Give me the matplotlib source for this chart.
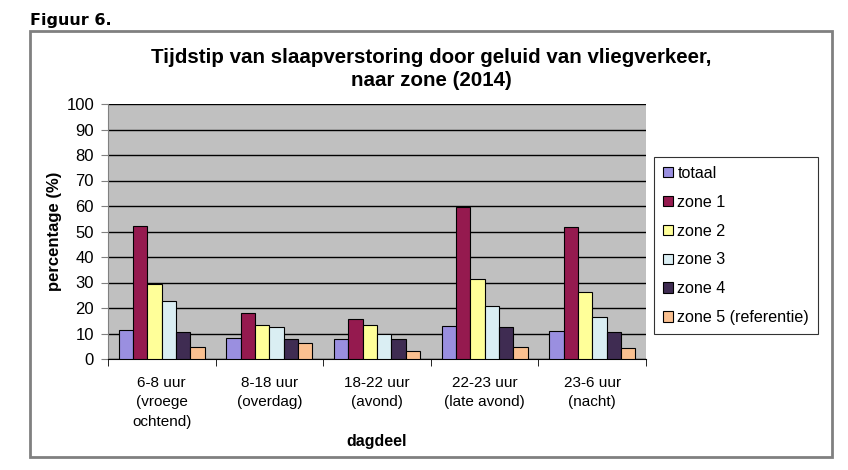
import numpy as np
import matplotlib
matplotlib.use('Agg')
import matplotlib.pyplot as plt
from matplotlib.patches import Rectangle

plt.rcParams['font.family'] = ['Liberation Sans', 'DejaVu Sans']

# data
dagdeel = ['6-8 uur\n(vroege\nochtend)', '8-18 uur\n(overdag)', '18-22 uur\n(avond)',
           '22-23 uur\n(late avond)', '23-6 uur\n(nacht)']
series = ['totaal', 'zone 1', 'zone 2', 'zone 3', 'zone 4', 'zone 5 (referentie)']
totaal = [11.4, 8.2, 8.0, 12.9, 11.0]
zone1 = [52.1, 18.0, 15.7, 59.8, 51.7]
zone2 = [29.4, 13.3, 13.3, 31.3, 26.1]
zone3 = [22.6, 12.5, 9.8, 20.8, 16.5]
zone4 = [10.6, 7.8, 7.8, 12.5, 10.6]
zone5 = [4.7, 6.3, 3.1, 4.7, 4.3]
colors = ['#9a8fe0', '#951a4f', '#ffff99', '#daeef3', '#3f2c52', '#fac090']

values = [totaal, zone1, zone2, zone3, zone4, zone5]

fig = plt.figure(figsize=(8.48, 4.7), dpi=100)
W, H = 848, 470

# outer frame of the chart
fig.patches.append(Rectangle((30 / W, 1 - 457 / H), 802 / W, 426 / H, transform=fig.transFigure,
                             fill=False, edgecolor='#808080', linewidth=2))
fig.text(30 / W, 1 - 20 / H, 'Figuur 6.', fontsize=11.5, fontweight='bold',
         family=['Verdana', 'DejaVu Sans'], va='center')
fig.text(431 / W, 1 - 69 / H, 'Tijdstip van slaapverstoring door geluid van vliegverkeer,\nnaar zone (2014)',
         fontsize=14.8, fontweight='bold', ha='center', va='center', linespacing=1.3)

ax = fig.add_axes([108 / W, 1 - 359 / H, 538 / W, 255 / H])
ax.set_facecolor('#c0c0c0')
x = np.arange(len(dagdeel))
bw = 0.8 / len(series)
for i, (name, vals) in enumerate(zip(series, values)):
    ax.bar(x - 0.4 + bw * (i + 0.5), vals, bw, color=colors[i], edgecolor='black',
           linewidth=0.8, label=name, zorder=3)

ax.set_xlim(-0.5, len(dagdeel) - 0.5)
ax.set_ylim(0, 100)
ax.set_yticks(range(0, 101, 10))
ax.yaxis.grid(True, color='black', linewidth=1, zorder=1)
ax.set_xticks(x)
ax.set_xticklabels(dagdeel, fontsize=11, linespacing=1.5)
ax.set_xticks(np.arange(-0.5, len(dagdeel)), minor=True)
ax.tick_params(axis='x', which='major', length=0, pad=12)
ax.tick_params(axis='x', which='minor', length=5, color='black')
ax.tick_params(axis='y', labelsize=12, length=5, color='#808080', pad=5)
for s in ['top', 'right']:
    ax.spines[s].set_visible(False)
ax.spines['left'].set_color('#808080')
ax.spines['bottom'].set_color('black')
ax.set_ylabel('percentage (%)', fontsize=12, fontweight='bold', labelpad=3)
ax.set_xlabel('dagdeel', fontsize=11.5, fontweight='bold', labelpad=4)

leg = ax.legend(loc='upper left', bbox_to_anchor=(654 / W, 1 - 157 / H), bbox_transform=fig.transFigure,
                frameon=True, fancybox=False, edgecolor='black', fontsize=11.6,
                handlelength=0.6, handleheight=0.6, handletextpad=0.3, labelspacing=0.86,
                borderpad=0.55, borderaxespad=0)
leg.get_frame().set_linewidth(0.8)

fig.savefig('out.png', dpi=100)
